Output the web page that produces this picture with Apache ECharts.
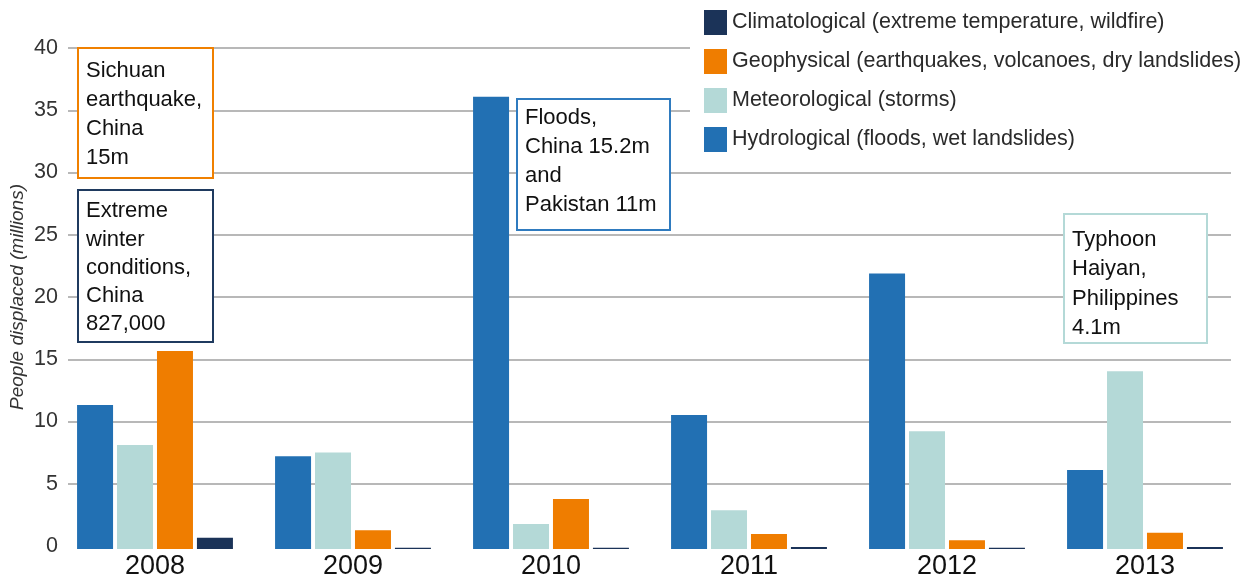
<!DOCTYPE html>
<html>
<head>
<meta charset="utf-8">
<script src="https://cdn.jsdelivr.net/npm/echarts@6/dist/echarts.min.js"></script>
<style>
  html, body { margin: 0; padding: 0; background: #fff; }
  #chart { width: 1244px; height: 578px; }
</style>
</head>
<body>
<div id="chart"></div>
<script>
const years = ['2008', '2009', '2010', '2011', '2012', '2013'];
const hydrological = [11.5, 7.4, 36.1, 10.7, 22.0, 6.3];
const meteorological = [8.3, 7.7, 2.0, 3.1, 9.4, 14.2];
const geophysical = [15.8, 1.5, 4.0, 1.2, 0.7, 1.3];
const climatological = [0.9, 0.1, 0.1, 0.15, 0.1, 0.15];
const yTicks = [0, 5, 10, 15, 20, 25, 30, 35, 40];

const names = {
  clim: 'Climatological (extreme temperature, wildfire)',
  geo: 'Geophysical (earthquakes, volcanoes, dry landslides)',
  met: 'Meteorological (storms)',
  hyd: 'Hydrological (floods, wet landslides)'
};
const colors = { hyd: '#2270b3', met: '#b4d9d7', geo: '#ef7d00', clim: '#1b3358' };

const FONT = '"Liberation Sans", Arial, sans-serif';

const bar = (name, data, color) => ({
  name: name,
  type: 'bar',
  xAxisIndex: 1,
  yAxisIndex: 1,
  barWidth: 36,
  barGap: '11%',
  itemStyle: { color: color },
  data: data
});

// annotation boxes: rect + text
const note = (x, y, w, h, stroke, lines, lineH, dy) => ([
  {
    type: 'rect',
    z: 10,
    shape: { x: x, y: y, width: w, height: h },
    style: { fill: '#fff', stroke: stroke, lineWidth: 2 }
  },
  {
    type: 'text',
    z: 11,
    x: x + 8,
    y: y + dy,
    style: {
      text: lines.join('\n'),
      font: '22px ' + FONT,
      fill: '#111',
      lineHeight: lineH,
      verticalAlign: 'top'
    }
  }
]);

const chart = echarts.init(document.getElementById('chart'));

chart.setOption({
  animation: false,
  textStyle: { fontFamily: FONT },
  grid: [
    { left: 68, right: 13, top: 48, bottom: 32, outerBoundsMode: 'none' },
    { left: 56, right: 0, top: 48, bottom: 29, outerBoundsMode: 'none' }
  ],
  legend: {
    orient: 'vertical',
    left: 690,
    top: 0,
    padding: [10, 4, 8, 14],
    backgroundColor: '#fff',
    itemWidth: 23,
    itemHeight: 25,
    itemGap: 14,
    icon: 'rect',
    z: 5,
    textStyle: { fontSize: 21.5, color: '#2a2a2a', fontFamily: FONT },
    data: [names.clim, names.geo, names.met, names.hyd]
  },
  xAxis: [
    { type: 'category', gridIndex: 0, data: years, show: false },
    {
      type: 'category',
      gridIndex: 1,
      data: years,
      axisLine: { show: false },
      axisTick: { show: false },
      axisLabel: { fontSize: 27, color: '#111', margin: 4 }
    }
  ],
  yAxis: [
    {
      type: 'value',
      gridIndex: 0,
      min: yTicks[0],
      max: yTicks[yTicks.length - 1],
      interval: 5,
      name: 'People displaced (millions)',
      nameLocation: 'middle',
      nameGap: 41,
      nameMoveOverlap: false,
      nameTextStyle: { fontSize: 19, fontStyle: 'italic', color: '#333' },
      axisLine: { show: false },
      axisTick: { show: false },
      axisLabel: { fontSize: 21.5, color: '#333', margin: 10 },
      splitLine: { showMinLine: false, lineStyle: { color: '#b8b8b8', width: 2 } }
    },
    {
      type: 'value',
      gridIndex: 1,
      min: yTicks[0],
      max: yTicks[yTicks.length - 1],
      interval: 5,
      show: false,
      splitLine: { show: false }
    }
  ],
  series: [
    bar(names.hyd, hydrological, colors.hyd),
    bar(names.met, meteorological, colors.met),
    bar(names.geo, geophysical, colors.geo),
    bar(names.clim, climatological, colors.clim)
  ],
  graphic: [].concat(
    note(78, 48, 135, 130, '#f08000', ['Sichuan', 'earthquake,', 'China', '15m'], 29, 8),
    note(78, 190, 135, 152, '#1f3a5f', ['Extreme', 'winter', 'conditions,', 'China', '827,000'], 28.3, 7),
    note(517, 99, 153, 131, '#2f7bbf', ['Floods,', 'China 15.2m', 'and', 'Pakistan 11m'], 29, 4),
    note(1064, 214, 143, 129, '#b4d9d7', ['Typhoon', 'Haiyan,', 'Philippines', '4.1m'], 29.5, 11)
  )
});
</script>
</body>
</html>
